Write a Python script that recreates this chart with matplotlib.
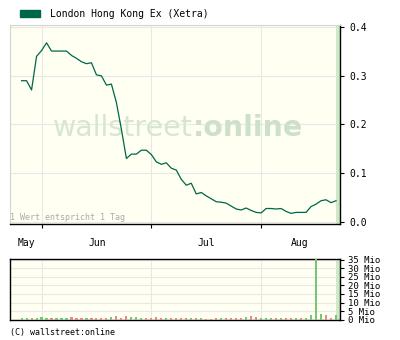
import numpy as np
import matplotlib
matplotlib.use("Agg")
import matplotlib.pyplot as plt
from matplotlib.patches import Rectangle

# price per trading day (index 0 = first day shown)
price = [0.290, 0.290, 0.271, 0.340, 0.352, 0.368, 0.351, 0.351, 0.351, 0.351,
         0.342, 0.336, 0.329, 0.325, 0.327, 0.302, 0.300, 0.281, 0.283, 0.245,
         0.190, 0.130, 0.139, 0.139, 0.147, 0.147, 0.138, 0.123, 0.118, 0.121,
         0.110, 0.106, 0.087, 0.075, 0.079, 0.057, 0.060, 0.053, 0.047, 0.041,
         0.040, 0.038, 0.032, 0.026, 0.024, 0.028, 0.023, 0.019, 0.018, 0.027,
         0.027, 0.026, 0.027, 0.021, 0.017, 0.019, 0.019, 0.019, 0.031, 0.036,
         0.043, 0.045, 0.039, 0.043]

# volume in Mio, and 1 = green (up) / 0 = red (down)
volume = [0.7, 0.7, 0.7, 0.7, 1.3, 0.7, 0.7, 0.7, 0.7, 0.7,
          1.3, 0.7, 0.7, 0.7, 0.7, 0.7, 0.7, 0.7, 1.3, 1.9,
          1.1, 2.1, 1.3, 1.3, 0.7, 0.7, 0.7, 1.3, 0.7, 0.7,
          0.7, 0.7, 0.7, 0.7, 0.7, 0.7, 0.7, 0.4, 0.5, 1.1,
          0.7, 1.1, 1.1, 0.7, 1.1, 1.7, 2.1, 1.7, 1.1, 1.1,
          1.1, 1.1, 0.7, 1.1, 1.1, 0.7, 0.7, 0.7, 2.9, 40.0,
          3.3, 2.7, 0.7, 2.7]
up = [1, 1, 0, 1, 1, 1, 0, 1, 1, 1,
      0, 0, 0, 1, 0, 0, 0, 0, 1, 0,
      0, 0, 1, 1, 1, 0, 0, 0, 0, 1,
      0, 0, 0, 0, 1, 0, 1, 0, 0, 0,
      1, 0, 0, 0, 0, 1, 0, 0, 1, 1,
      1, 0, 1, 0, 0, 1, 0, 1, 1, 1,
      1, 0, 0, 1]

month_names = ["May", "Jun", "Jul", "Aug"]
month_label_pos = [0.9, 15.1, 37.1, 55.7]
month_starts = [4.07, 25.96, 47.88]

price_ticks = [0.0, 0.1, 0.2, 0.3, 0.4]
vol_ticks = [0, 5, 10, 15, 20, 25, 30, 35]

line_col = "#00664a"
bg = "#fffff2"
grid_col = "#e8e8e8"
band_col = "#cfe8c8"
mono = "DejaVu Sans Mono"

x = np.arange(len(price))
xlim = (-2.32, 63.8)

fig = plt.figure(figsize=(4, 3.4), dpi=100)

# ---- price panel
ax = fig.add_axes([0.025, 0.341, 0.825, 0.586])
ax.set_facecolor(bg)
ax.plot(x, price, color=line_col, lw=0.9, zorder=3)
ax.axvspan(63.0, 63.7, color=band_col, lw=0, zorder=2)
ax.set_xlim(*xlim)
ax.set_ylim(-0.005, 0.405)

ax.set_yticks(price_ticks)
ax.set_yticklabels([f"{v:.1f}" for v in price_ticks], fontfamily=mono, fontsize=7)
ax.yaxis.tick_right()
ax.tick_params(axis="y", direction="out", length=3, width=0.8, pad=3.5)

ax.set_xticks(month_starts)
ax.set_xticklabels([])
ax.set_xticks(month_label_pos, minor=True)
ax.set_xticklabels(month_names, minor=True, fontfamily=mono, fontsize=7)
ax.tick_params(axis="x", which="major", direction="out", length=3, width=0.8)
ax.tick_params(axis="x", which="minor", length=0, pad=10)

ax.grid(True, which="major", color=grid_col, lw=0.8, zorder=0)
ax.set_axisbelow(True)
for s in ["top", "left"]:
    ax.spines[s].set_color("#d4d4d4")
for s in ["right", "bottom"]:
    ax.spines[s].set_color("black")
    ax.spines[s].set_linewidth(1.0)

# watermark
ax.text(0.555, 0.44, "wallstreet", transform=ax.transAxes, ha="right",
        va="baseline", fontsize=20.5, color="#d6e6d2", zorder=1)
ax.text(0.555, 0.44, ":online", transform=ax.transAxes, ha="left",
        va="baseline", fontsize=20.5, fontweight="bold", color="#cde0c9", zorder=1)
ax.text(0.0, 0.01, "1 Wert entspricht 1 Tag", transform=ax.transAxes,
        ha="left", va="bottom", fontfamily=mono, fontsize=6, color="#aaaaaa")

# ---- volume panel
av = fig.add_axes([0.025, 0.059, 0.825, 0.179])
av.set_facecolor(bg)
colors = ["#78c478" if u else "#e08c8c" for u in up]
av.bar(x, volume, width=0.42, color=colors, lw=0, zorder=3)
av.axvspan(63.0, 63.7, color=band_col, lw=0, zorder=2)
av.set_xlim(*xlim)
av.set_ylim(-0.2, 35.4)
av.set_yticks(vol_ticks)
av.set_yticklabels([f"{v} Mio" for v in vol_ticks], fontfamily=mono, fontsize=6.5)
av.yaxis.tick_right()
av.tick_params(axis="y", direction="out", length=3, width=0.8, pad=3)
av.set_xticks(month_starts)
av.set_xticklabels([])
av.tick_params(axis="x", length=0)
av.grid(True, color=grid_col, lw=0.8, zorder=0)
av.set_axisbelow(True)
for s in av.spines.values():
    s.set_color("black")
    s.set_linewidth(1.0)

# ---- legend and footer
fig.patches.append(Rectangle((20 / 400, 1 - 16.5 / 340), 20 / 400, 6 / 340,
                             transform=fig.transFigure, color=line_col))
fig.text(50 / 400, 1 - 14 / 340, "London Hong Kong Ex (Xetra)",
         fontfamily=mono, fontsize=7, va="center", ha="left")
fig.text(10 / 400, 1 - 333 / 340, "(C) wallstreet:online",
         fontfamily=mono, fontsize=6, va="center", ha="left")

fig.savefig("out.png", dpi=100, facecolor="white")
